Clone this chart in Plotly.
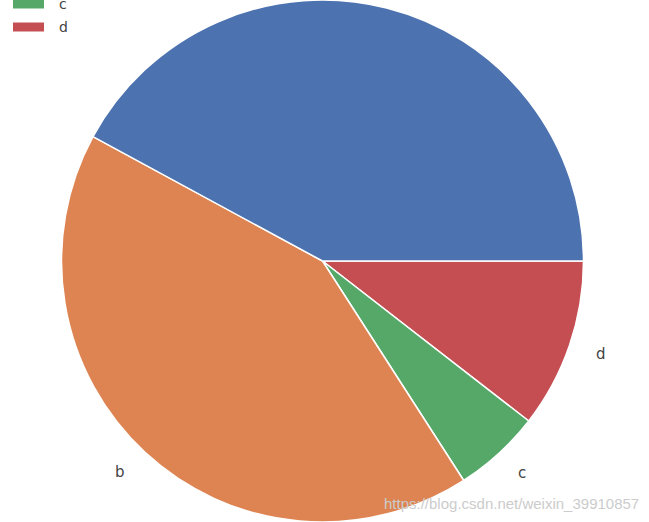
import math
import plotly.graph_objects as go

categories = ["a", "b", "c", "d"]
values = [42.1, 42.0, 5.4, 10.5]
colors = ["#4C72B0", "#DD8452", "#55A868", "#C44E52"]

W, H = 649, 522
CX, CY = 322.5, 261.0   # pie centre in pixels
R_px = 261.0

fig = go.Figure()

# clockwise from 3 o'clock with reversed order == matplotlib CCW from 3 o'clock
fig.add_trace(go.Pie(
    labels=categories[::-1],
    values=values[::-1],
    marker=dict(colors=colors[::-1], line=dict(color="white", width=1.5)),
    sort=False,
    direction="clockwise",
    rotation=90,
    textinfo="none",
    hoverinfo="label+percent",
    showlegend=False,
    domain=dict(x=[0, 2 * CX / W], y=[0, 1]),
))

def px(xp):
    return xp / W

def py(yp):
    return 1 - yp / H

annotations = []
shapes = []

# outside labels at 1.1 radius (matplotlib style)
total = sum(values)
start = 0.0
for name, v in zip(categories, values):
    mid = math.radians((start + v / 2) / total * 360.0)
    start += v
    dx = 1.1 * R_px * math.cos(mid)
    dy = 1.1 * R_px * math.sin(mid)
    annotations.append(dict(
        x=px(CX + dx), y=py(CY - dy), xref="paper", yref="paper",
        text=name, showarrow=False,
        xanchor="left" if dx > 0 else "right", yanchor="middle",
        font=dict(family="DejaVu Sans", size=15, color="#444444"),
    ))

# legend (top-left, partly above the visible area as in the reference)
LEG_Y_C = 4.0      # centre of third entry
LEG_STEP = 23.0
for i, (name, col) in enumerate(zip(categories, colors)):
    yc = LEG_Y_C + (i - 2) * LEG_STEP
    shapes.append(dict(
        type="rect", xref="paper", yref="paper",
        x0=px(13), x1=px(44), y0=py(yc - 4.5), y1=py(yc + 4.5),
        fillcolor=col, line=dict(width=0), layer="above",
    ))
    annotations.append(dict(
        x=px(57), y=py(yc), xref="paper", yref="paper",
        text=name, showarrow=False, xanchor="left", yanchor="middle",
        font=dict(family="DejaVu Sans", size=14, color="#444444"),
    ))

annotations.append(dict(
    x=px(641), y=py(503), xref="paper", yref="paper",
    text="https://blog.csdn.net/weixin_39910857", showarrow=False,
    xanchor="right", yanchor="middle",
    font=dict(family="Liberation Sans", size=15, color="#cccccc"),
))

fig.update_layout(
    width=W, height=H,
    margin=dict(l=0, r=0, t=0, b=0, pad=0, autoexpand=False),
    paper_bgcolor="white", plot_bgcolor="white",
    annotations=annotations,
    shapes=shapes,
    showlegend=False,
)

fig.write_html(
    "out.html",
    config={"displayModeBar": False},
    post_script="document.body.style.margin='0px';document.body.style.padding='0px';",
)
